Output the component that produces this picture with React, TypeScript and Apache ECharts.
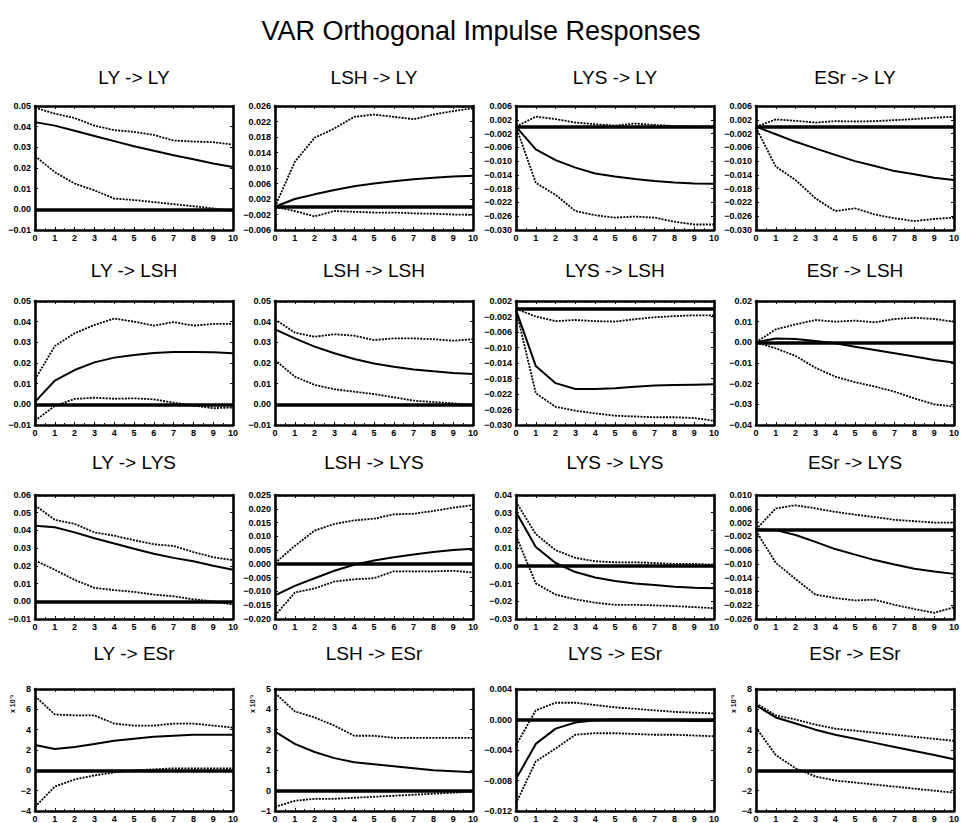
import React, { useEffect, useRef } from "react";
import * as echarts from "echarts";

const MAIN_TITLE = "VAR Orthogonal Impulse Responses";
const VARS = ["LY", "LSH", "LYS", "ESr"];
const HORIZON = [0, 1, 2, 3, 4, 5, 6, 7, 8, 9, 10];
const X_TICKS = [0, 1, 2, 3, 4, 5, 6, 7, 8, 9, 10];

// ---- Row 1: responses of LY ----
const LY_LY_up = [0.0492, 0.0463, 0.0442, 0.0405, 0.0383, 0.0375, 0.036, 0.0333, 0.0328, 0.0325, 0.0313];
const LY_LY_mid = [0.0422, 0.0405, 0.038, 0.0355, 0.033, 0.0305, 0.0283, 0.0262, 0.0242, 0.0222, 0.0205];
const LY_LY_lo = [0.0258, 0.018, 0.0125, 0.0092, 0.0052, 0.0045, 0.0035, 0.0025, 0.0015, 0.0005, -0.0008];

const LSH_LY_up = [0, 0.0116, 0.0178, 0.0202, 0.0232, 0.0238, 0.0232, 0.0226, 0.0238, 0.0247, 0.0254];
const LSH_LY_mid = [0, 0.002, 0.0032, 0.0043, 0.0053, 0.006, 0.0066, 0.0071, 0.0075, 0.0078, 0.008];
const LSH_LY_lo = [0, -0.0011, -0.0025, -0.0011, -0.0013, -0.0015, -0.0015, -0.0017, -0.0018, -0.002, -0.0021];

const LYS_LY_up = [0, 0.0029, 0.0022, 0.0012, 0.0007, 0.0003, 0.0009, 0.0005, 0.0002, 0.0001, 0.0001];
const LYS_LY_mid = [0, -0.0066, -0.0097, -0.0119, -0.0136, -0.0145, -0.0152, -0.0158, -0.0162, -0.0165, -0.0166];
const LYS_LY_lo = [0, -0.0163, -0.0198, -0.0245, -0.0257, -0.0264, -0.0261, -0.0264, -0.0276, -0.0284, -0.0284];

const ESr_LY_up = [0, 0.0021, 0.0017, 0.0012, 0.0016, 0.0015, 0.0016, 0.0019, 0.0022, 0.0026, 0.0029];
const ESr_LY_mid = [0, -0.0022, -0.0044, -0.0063, -0.0082, -0.01, -0.0114, -0.0129, -0.0138, -0.0148, -0.0155];
const ESr_LY_lo = [-0.0003, -0.0116, -0.0155, -0.0208, -0.0245, -0.0237, -0.0255, -0.0266, -0.0274, -0.0268, -0.0264];

// ---- Row 2: responses of LSH ----
const LY_LSH_up = [0.0121, 0.0282, 0.0344, 0.0384, 0.0415, 0.04, 0.0381, 0.0398, 0.0381, 0.0389, 0.0389];
const LY_LSH_mid = [0.0012, 0.0115, 0.0166, 0.0203, 0.0226, 0.0239, 0.0248, 0.0253, 0.0253, 0.0252, 0.0247];
const LY_LSH_lo = [-0.0079, -0.0008, 0.0026, 0.0032, 0.0027, 0.0029, 0.0024, 0.0008, -0.0006, -0.0019, -0.0015];

const LSH_LSH_up = [0.0411, 0.0347, 0.0327, 0.0339, 0.0332, 0.0311, 0.0319, 0.0319, 0.0315, 0.0308, 0.0315];
const LSH_LSH_mid = [0.0363, 0.0319, 0.0279, 0.0247, 0.0219, 0.0198, 0.0182, 0.0169, 0.016, 0.0152, 0.0147];
const LSH_LSH_lo = [0.0215, 0.0134, 0.0094, 0.0073, 0.0061, 0.005, 0.0034, 0.0018, 0.0011, 0.0005, -0.0003];

const LYS_LSH_up = [0, -0.002, -0.0032, -0.0029, -0.0032, -0.0033, -0.0027, -0.0022, -0.0019, -0.0017, -0.0017];
const LYS_LSH_mid = [-0.0003, -0.0148, -0.0192, -0.0207, -0.0207, -0.0205, -0.0201, -0.0198, -0.0197, -0.0196, -0.0195];
const LYS_LSH_lo = [-0.0003, -0.0218, -0.0253, -0.0263, -0.027, -0.0276, -0.0278, -0.028, -0.028, -0.0282, -0.0289];

const ESr_LSH_up = [0, 0.0063, 0.0087, 0.0108, 0.01, 0.0105, 0.0097, 0.0113, 0.0119, 0.0113, 0.01];
const ESr_LSH_mid = [0, 0.0019, 0.0016, 0.0006, -0.0005, -0.0021, -0.0037, -0.0053, -0.0069, -0.0085, -0.0098];
const ESr_LSH_lo = [0, -0.0029, -0.0066, -0.0123, -0.0166, -0.0193, -0.0214, -0.0239, -0.0271, -0.03, -0.0311];

// ---- Row 3: responses of LYS ----
const LY_LYS_up = [0.0542, 0.046, 0.0437, 0.0389, 0.037, 0.0345, 0.0322, 0.0312, 0.0278, 0.0249, 0.0232];
const LY_LYS_mid = [0.0427, 0.0418, 0.0389, 0.0356, 0.0326, 0.0297, 0.0268, 0.0245, 0.0226, 0.0201, 0.0178];
const LY_LYS_lo = [0.023, 0.0178, 0.0121, 0.0076, 0.0063, 0.0053, 0.0038, 0.0028, 0.0011, 0.0, -0.0019];

const LSH_LYS_up = [0.0003, 0.0065, 0.0121, 0.0145, 0.0158, 0.0164, 0.018, 0.0182, 0.0192, 0.0204, 0.0213];
const LSH_LYS_mid = [-0.0114, -0.008, -0.0052, -0.0025, -0.0003, 0.0012, 0.0024, 0.0034, 0.0043, 0.005, 0.0055];
const LSH_LYS_lo = [-0.0188, -0.0104, -0.0089, -0.0064, -0.0056, -0.0052, -0.0027, -0.0027, -0.0027, -0.0025, -0.0031];

const LYS_LYS_up = [0.0362, 0.0179, 0.0089, 0.0045, 0.0026, 0.002, 0.002, 0.0016, 0.0011, 0.0011, 0.0007];
const LYS_LYS_mid = [0.0304, 0.0107, 0.0016, -0.0035, -0.0066, -0.0085, -0.0099, -0.0108, -0.0118, -0.0124, -0.0127];
const LYS_LYS_lo = [0.017, -0.0099, -0.0162, -0.0189, -0.0208, -0.022, -0.022, -0.0223, -0.0227, -0.0233, -0.0239];

const ESr_LYS_up = [0, 0.0061, 0.007, 0.0061, 0.0051, 0.0043, 0.0036, 0.0028, 0.0024, 0.002, 0.002];
const ESr_LYS_mid = [0, -0.0002, -0.0016, -0.0036, -0.0057, -0.0073, -0.0089, -0.0102, -0.0114, -0.0122, -0.0129];
const ESr_LYS_lo = [-0.0004, -0.0097, -0.0144, -0.0189, -0.0199, -0.0206, -0.0204, -0.0219, -0.0231, -0.0242, -0.0226];

// ---- Row 4: responses of ESr ----
const LY_ESr_up = [0.0073, 0.0055, 0.0054, 0.0054, 0.0046, 0.0044, 0.0044, 0.0046, 0.0046, 0.0044, 0.0042];
const LY_ESr_mid = [0.0025, 0.0021, 0.0023, 0.0026, 0.0029, 0.0031, 0.0033, 0.0034, 0.0035, 0.0035, 0.0035];
const LY_ESr_lo = [-0.0036, -0.0016, -0.0009, -0.0005, -0.0002, 0.0, 0.0001, 0.0002, 0.0002, 0.0002, 0.0002];

const LSH_ESr_up = [0.0048, 0.0039, 0.0036, 0.0032, 0.0027, 0.0027, 0.0026, 0.0026, 0.0026, 0.0026, 0.0026];
const LSH_ESr_mid = [0.0029, 0.0023, 0.0019, 0.0016, 0.0014, 0.0013, 0.0012, 0.0011, 0.001, 0.00095, 0.0009];
const LSH_ESr_lo = [-0.0008, -0.0005, -0.0004, -0.0004, -0.00035, -0.0003, -0.00025, -0.0002, -0.00015, -0.0001, -0.00005];

const LYS_ESr_up = [-0.0034, 0.0012, 0.0022, 0.0022, 0.0019, 0.0016, 0.0014, 0.0012, 0.001, 0.0009, 0.0008];
const LYS_ESr_mid = [-0.0078, -0.0032, -0.0012, -0.0004, -0.0001, 0, 0, -0.0001, -0.0001, -0.0002, -0.0002];
const LYS_ESr_lo = [-0.011, -0.0055, -0.0038, -0.002, -0.0018, -0.0018, -0.0019, -0.002, -0.002, -0.0021, -0.0022];

const ESr_ESr_up = [0.0066, 0.0054, 0.005, 0.0045, 0.0041, 0.0039, 0.0037, 0.0035, 0.0033, 0.0031, 0.0029];
const ESr_ESr_mid = [0.0064, 0.0052, 0.0046, 0.004, 0.0035, 0.0031, 0.0027, 0.0023, 0.0019, 0.0015, 0.0011];
const ESr_ESr_lo = [0.0042, 0.0015, 0.0002, -0.0006, -0.001, -0.0012, -0.0014, -0.0016, -0.0018, -0.002, -0.0022];

// ---- y tick values ----
const T_m01_05 = [-0.01, 0, 0.01, 0.02, 0.03, 0.04, 0.05];
const T_m006_026 = [-0.006, -0.002, 0.002, 0.006, 0.01, 0.014, 0.018, 0.022, 0.026];
const T_m030_006 = [-0.03, -0.026, -0.022, -0.018, -0.014, -0.01, -0.006, -0.002, 0.002, 0.006];
const T_m030_002 = [-0.03, -0.026, -0.022, -0.018, -0.014, -0.01, -0.006, -0.002, 0.002];
const T_m04_02 = [-0.04, -0.03, -0.02, -0.01, 0, 0.01, 0.02];
const T_m01_06 = [-0.01, 0, 0.01, 0.02, 0.03, 0.04, 0.05, 0.06];
const T_m020_025 = [-0.02, -0.015, -0.01, -0.005, 0, 0.005, 0.01, 0.015, 0.02, 0.025];
const T_m03_04 = [-0.03, -0.02, -0.01, 0, 0.01, 0.02, 0.03, 0.04];
const T_m026_010 = [-0.026, -0.022, -0.018, -0.014, -0.01, -0.006, -0.002, 0.002, 0.006, 0.01];
const T_m4_8e3 = [-0.004, -0.002, 0, 0.002, 0.004, 0.006, 0.008];
const T_m1_5e3 = [-0.001, 0, 0.001, 0.002, 0.003, 0.004, 0.005];
const T_m012_004 = [-0.012, -0.008, -0.004, 0, 0.004];

type Panel = {
  up: number[]; mid: number[]; lo: number[];
  ticks: number[]; dec: number; scale: number;
};

// rows = response variable, columns = impulse variable
const PANELS: Panel[] = [
  { up: LY_LY_up, mid: LY_LY_mid, lo: LY_LY_lo, ticks: T_m01_05, dec: 2, scale: 1 },
  { up: LSH_LY_up, mid: LSH_LY_mid, lo: LSH_LY_lo, ticks: T_m006_026, dec: 3, scale: 1 },
  { up: LYS_LY_up, mid: LYS_LY_mid, lo: LYS_LY_lo, ticks: T_m030_006, dec: 3, scale: 1 },
  { up: ESr_LY_up, mid: ESr_LY_mid, lo: ESr_LY_lo, ticks: T_m030_006, dec: 3, scale: 1 },
  { up: LY_LSH_up, mid: LY_LSH_mid, lo: LY_LSH_lo, ticks: T_m01_05, dec: 2, scale: 1 },
  { up: LSH_LSH_up, mid: LSH_LSH_mid, lo: LSH_LSH_lo, ticks: T_m01_05, dec: 2, scale: 1 },
  { up: LYS_LSH_up, mid: LYS_LSH_mid, lo: LYS_LSH_lo, ticks: T_m030_002, dec: 3, scale: 1 },
  { up: ESr_LSH_up, mid: ESr_LSH_mid, lo: ESr_LSH_lo, ticks: T_m04_02, dec: 2, scale: 1 },
  { up: LY_LYS_up, mid: LY_LYS_mid, lo: LY_LYS_lo, ticks: T_m01_06, dec: 2, scale: 1 },
  { up: LSH_LYS_up, mid: LSH_LYS_mid, lo: LSH_LYS_lo, ticks: T_m020_025, dec: 3, scale: 1 },
  { up: LYS_LYS_up, mid: LYS_LYS_mid, lo: LYS_LYS_lo, ticks: T_m03_04, dec: 2, scale: 1 },
  { up: ESr_LYS_up, mid: ESr_LYS_mid, lo: ESr_LYS_lo, ticks: T_m026_010, dec: 3, scale: 1 },
  { up: LY_ESr_up, mid: LY_ESr_mid, lo: LY_ESr_lo, ticks: T_m4_8e3, dec: 0, scale: 1000 },
  { up: LSH_ESr_up, mid: LSH_ESr_mid, lo: LSH_ESr_lo, ticks: T_m1_5e3, dec: 0, scale: 1000 },
  { up: LYS_ESr_up, mid: LYS_ESr_mid, lo: LYS_ESr_lo, ticks: T_m012_004, dec: 3, scale: 1 },
  { up: ESr_ESr_up, mid: ESr_ESr_mid, lo: ESr_ESr_lo, ticks: T_m4_8e3, dec: 0, scale: 1000 },
];

// layout
const GRID_LEFT = [35, 275, 516, 756];
const GRID_TOP = [106, 301, 495, 689];
const GRID_W = 198;
const GRID_H = 124;
const TITLE_Y = [77, 270, 462, 653];

const LABEL_FONT = "Liberation Sans, Arial, sans-serif";

function fmt(v: number, dec: number, scale: number): string {
  let s = (Math.round(v * scale * 1e6) / 1e6).toFixed(dec);
  if (/^-0(\.0+)?$/.test(s)) s = s.slice(1);
  return s.replace("-", "\u2212");
}

export default function App() {
  const ref = useRef<HTMLDivElement>(null);
  useEffect(() => {
    if (!ref.current) return;
    const chart = echarts.init(ref.current, undefined, { renderer: "svg" });

    const grids: any[] = [];
    const xAxes: any[] = [];
    const yAxes: any[] = [];
    const series: any[] = [];
    const graphics: any[] = [];

    graphics.push({
      type: "text",
      x: 481,
      y: 31,
      style: {
        text: MAIN_TITLE,
        font: `normal 27px ${LABEL_FONT}`,
        fill: "#000",
        align: "center",
        verticalAlign: "middle",
      },
    });

    PANELS.forEach((p, i) => {
      const r = Math.floor(i / 4);
      const c = i % 4;
      grids.push({ left: GRID_LEFT[c], top: GRID_TOP[r], width: GRID_W, height: GRID_H, containLabel: false });
      graphics.push({
        type: "text",
        x: GRID_LEFT[c] + GRID_W / 2,
        y: TITLE_Y[r],
        style: {
          text: `${VARS[c]} -> ${VARS[r]}`,
          font: `normal 19px ${LABEL_FONT}`,
          fill: "#000",
          align: "center",
          verticalAlign: "middle",
        },
      });
      if (p.scale !== 1) {
        graphics.push({
          type: "text",
          x: GRID_LEFT[c] - 23,
          y: GRID_TOP[r] + 15,
          rotation: Math.PI / 2,
          style: {
            text: "x 10\u207B\u00B3",
            font: `bold 7px ${LABEL_FONT}`,
            fill: "#000",
            align: "center",
            verticalAlign: "middle",
          },
        });
      }
      const axisLine = { show: true, onZero: false, lineStyle: { color: "#000", width: 2.6 } };
      const xBase = {
        type: "value",
        gridIndex: i,
        min: X_TICKS[0],
        max: X_TICKS[X_TICKS.length - 1],
        interval: 1,
        axisLine,
        splitLine: { show: false },
        axisTick: { show: true, inside: true, length: 3, lineStyle: { color: "#000", width: 1 } },
        minorTick: { show: true, splitNumber: 2, length: 2, lineStyle: { color: "#000", width: 1 } },
      };
      xAxes.push({
        ...xBase,
        position: "bottom",
        axisLabel: {
          show: true,
          margin: 3,
          fontSize: 9,
          fontWeight: "bold",
          fontFamily: LABEL_FONT,
          color: "#000",
          formatter: (v: number) => String(v),
        },
      });
      xAxes.push({ ...xBase, position: "top", axisLabel: { show: false } });

      const yMin = p.ticks[0];
      const yMax = p.ticks[p.ticks.length - 1];
      const yBase = {
        type: "value",
        gridIndex: i,
        min: yMin,
        max: yMax,
        axisLine,
        splitLine: { show: false },
        axisTick: { show: true, inside: true, length: 3, customValues: p.ticks, lineStyle: { color: "#000", width: 1 } },
      };
      yAxes.push({
        ...yBase,
        position: "left",
        axisLabel: {
          show: true,
          margin: 4,
          fontSize: 9,
          fontWeight: "bold",
          fontFamily: LABEL_FONT,
          color: "#000",
          customValues: p.ticks,
          formatter: (v: number) => fmt(v, p.dec, p.scale),
        },
      });
      yAxes.push({ ...yBase, position: "right", axisLabel: { show: false } });

      const toPts = (arr: number[]) => HORIZON.map((h, k) => [h, arr[k]]);
      series.push({
        type: "line",
        xAxisIndex: 2 * i,
        yAxisIndex: 2 * i,
        data: toPts(p.mid),
        symbol: "none",
        lineStyle: { color: "#000", width: 2 },
        z: 3,
        markLine: {
          silent: true,
          symbol: ["none", "none"],
          label: { show: false },
          lineStyle: { color: "#000", width: 3.5, type: "solid" },
          data: [{ yAxis: 0 }],
          z: 4,
        },
      });
      [p.up, p.lo].forEach((arr) => {
        series.push({
          type: "line",
          xAxisIndex: 2 * i,
          yAxisIndex: 2 * i,
          data: toPts(arr),
          symbol: "none",
          lineStyle: { color: "#000", width: 1.8, type: [2, 1.2] },
          z: 3,
        });
      });
    });

    chart.setOption({
      animation: false,
      backgroundColor: "#fff",
      grid: grids,
      xAxis: xAxes,
      yAxis: yAxes,
      series,
      graphic: graphics,
    });
    return () => chart.dispose();
  }, []);

  return (
    <div
      ref={ref}
      style={{ position: "fixed", left: 0, top: 0, width: 963, height: 823, background: "#fff" }}
    />
  );
}
